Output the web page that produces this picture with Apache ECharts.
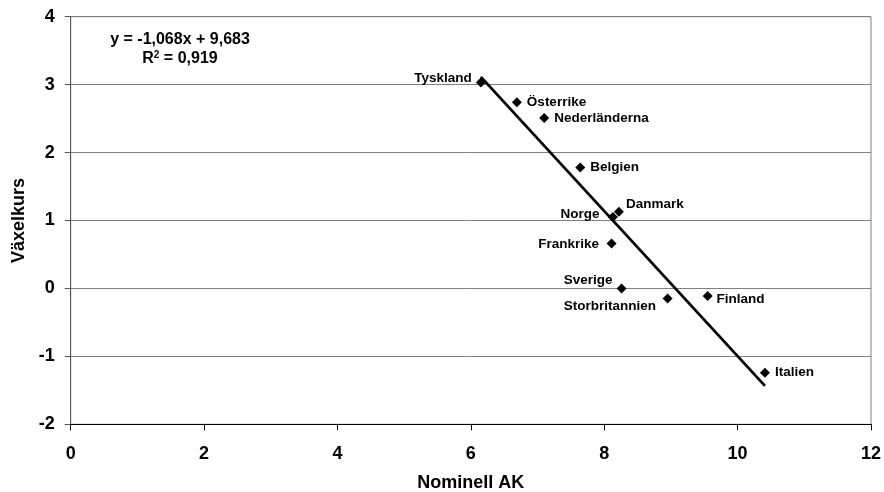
<!DOCTYPE html>
<html>
<head>
<meta charset="utf-8">
<script src="https://cdn.jsdelivr.net/npm/echarts@6/dist/echarts.min.js"></script>
<style>
html,body{margin:0;padding:0;background:#fff;}
#chart{width:884px;height:492px;}
</style>
</head>
<body>
<div id="chart"></div>
<script>
var countries = ['Tyskland','Österrike','Nederländerna','Belgien','Danmark','Norge','Frankrike','Sverige','Storbritannien','Finland','Italien'];
var nominellAK = [6.15, 6.69, 7.10, 7.64, 8.22, 8.13, 8.11, 8.26, 8.95, 9.55, 10.41];
var vaxelkurs = [3.03, 2.74, 2.51, 1.78, 1.13, 1.05, 0.66, 0.00, -0.15, -0.11, -1.24];
var trendSlope = -1.068;
var trendIntercept = 9.683;
var xTicks = [0, 2, 4, 6, 8, 10, 12];
var yTicks = [-2, -1, 0, 1, 2, 3, 4];

var labelPos = {
  'Tyskland': {position:'left', distance:4, offset:[0,-4]},
  'Österrike': {position:'right', distance:5, offset:[0,0]},
  'Nederländerna': {position:'right', distance:5, offset:[0,0]},
  'Belgien': {position:'right', distance:5, offset:[0,0]},
  'Danmark': {position:'right', distance:2, offset:[0,-7]},
  'Norge': {position:'left', distance:8.5, offset:[0,-3]},
  'Frankrike': {position:'left', distance:7.5, offset:[0,1]},
  'Sverige': {position:'left', distance:4, offset:[0,-8]},
  'Storbritannien': {position:'left', distance:6.5, offset:[0,8]},
  'Finland': {position:'right', distance:4, offset:[0,3]},
  'Italien': {position:'right', distance:5, offset:[0,0]}
};

var points = countries.map(function(c, i){
  var lp = labelPos[c];
  return {
    name: c,
    value: [nominellAK[i], vaxelkurs[i]],
    label: {show:true, formatter:c, position:lp.position, distance:lp.distance, offset:lp.offset}
  };
});

var xMin = Math.min.apply(null, nominellAK);
var xMax = Math.max.apply(null, nominellAK);
var trend = [[xMin, trendSlope*xMin + trendIntercept],[xMax, trendSlope*xMax + trendIntercept]];

var font = 'Liberation Sans, Arial, sans-serif';
var chart = echarts.init(document.getElementById('chart'), null, {renderer:'canvas'});
chart.setOption({
  animation:false,
  backgroundColor:'#fff',
  grid:{left:70.7, right:13, top:16.7, bottom:67.7, containLabel:false, outerBoundsMode:'none', show:true, borderColor:'#808080', borderWidth:1, backgroundColor:'transparent'},
  xAxis:{
    type:'value', min:xTicks[0], max:xTicks[xTicks.length-1], interval:2,
    name:'Nominell AK', nameLocation:'middle', nameGap:50,
    nameTextStyle:{fontFamily:font, fontWeight:'bold', fontSize:18, color:'#000'},
    axisLine:{show:true, onZero:false, lineStyle:{color:'#000', width:1}},
    axisTick:{show:true, inside:false, length:6, lineStyle:{color:'#000'}},
    axisLabel:{fontFamily:font, fontWeight:'bold', fontSize:18, color:'#000', margin:21},
    splitLine:{show:false}
  },
  yAxis:{
    type:'value', min:yTicks[0], max:yTicks[yTicks.length-1], interval:1,
    name:'Växelkurs', nameLocation:'middle', nameGap:34,
    nameTextStyle:{fontFamily:font, fontWeight:'bold', fontSize:18, color:'#000'},
    axisLine:{show:true, onZero:false, lineStyle:{color:'#555', width:1}},
    axisTick:{show:true, inside:false, length:6, lineStyle:{color:'#555'}},
    axisLabel:{fontFamily:font, fontWeight:'bold', fontSize:18, color:'#000', margin:16},
    splitLine:{show:true, lineStyle:{color:'#808080', width:1}}
  },
  series:[
    {
      type:'line', data:trend, symbol:'none', silent:true,
      lineStyle:{color:'#000', width:2.8}, z:3
    },
    {
      type:'scatter', data:points, symbol:'diamond', symbolSize:[10,10],
      itemStyle:{color:'#000', opacity:1},
      label:{fontFamily:font, fontWeight:'bold', fontSize:13.5, color:'#000', opacity:1},
      z:4
    }
  ],
  graphic:[
    {type:'text', x:180, y:40, style:{text:'y = -1,068x + 9,683', fontFamily:font, fontWeight:'bold', fontSize:16, fill:'#000', align:'center', verticalAlign:'middle'}},
    {type:'text', x:180, y:59, style:{text:'R{s|2} = 0,919', fontFamily:font, fontWeight:'bold', fontSize:16, fill:'#000', align:'center', verticalAlign:'middle',
      rich:{s:{fontFamily:font, fontWeight:'bold', fontSize:10, verticalAlign:'top', padding:[0,0,8,0]}}}}
  ]
});
</script>
</body>
</html>
